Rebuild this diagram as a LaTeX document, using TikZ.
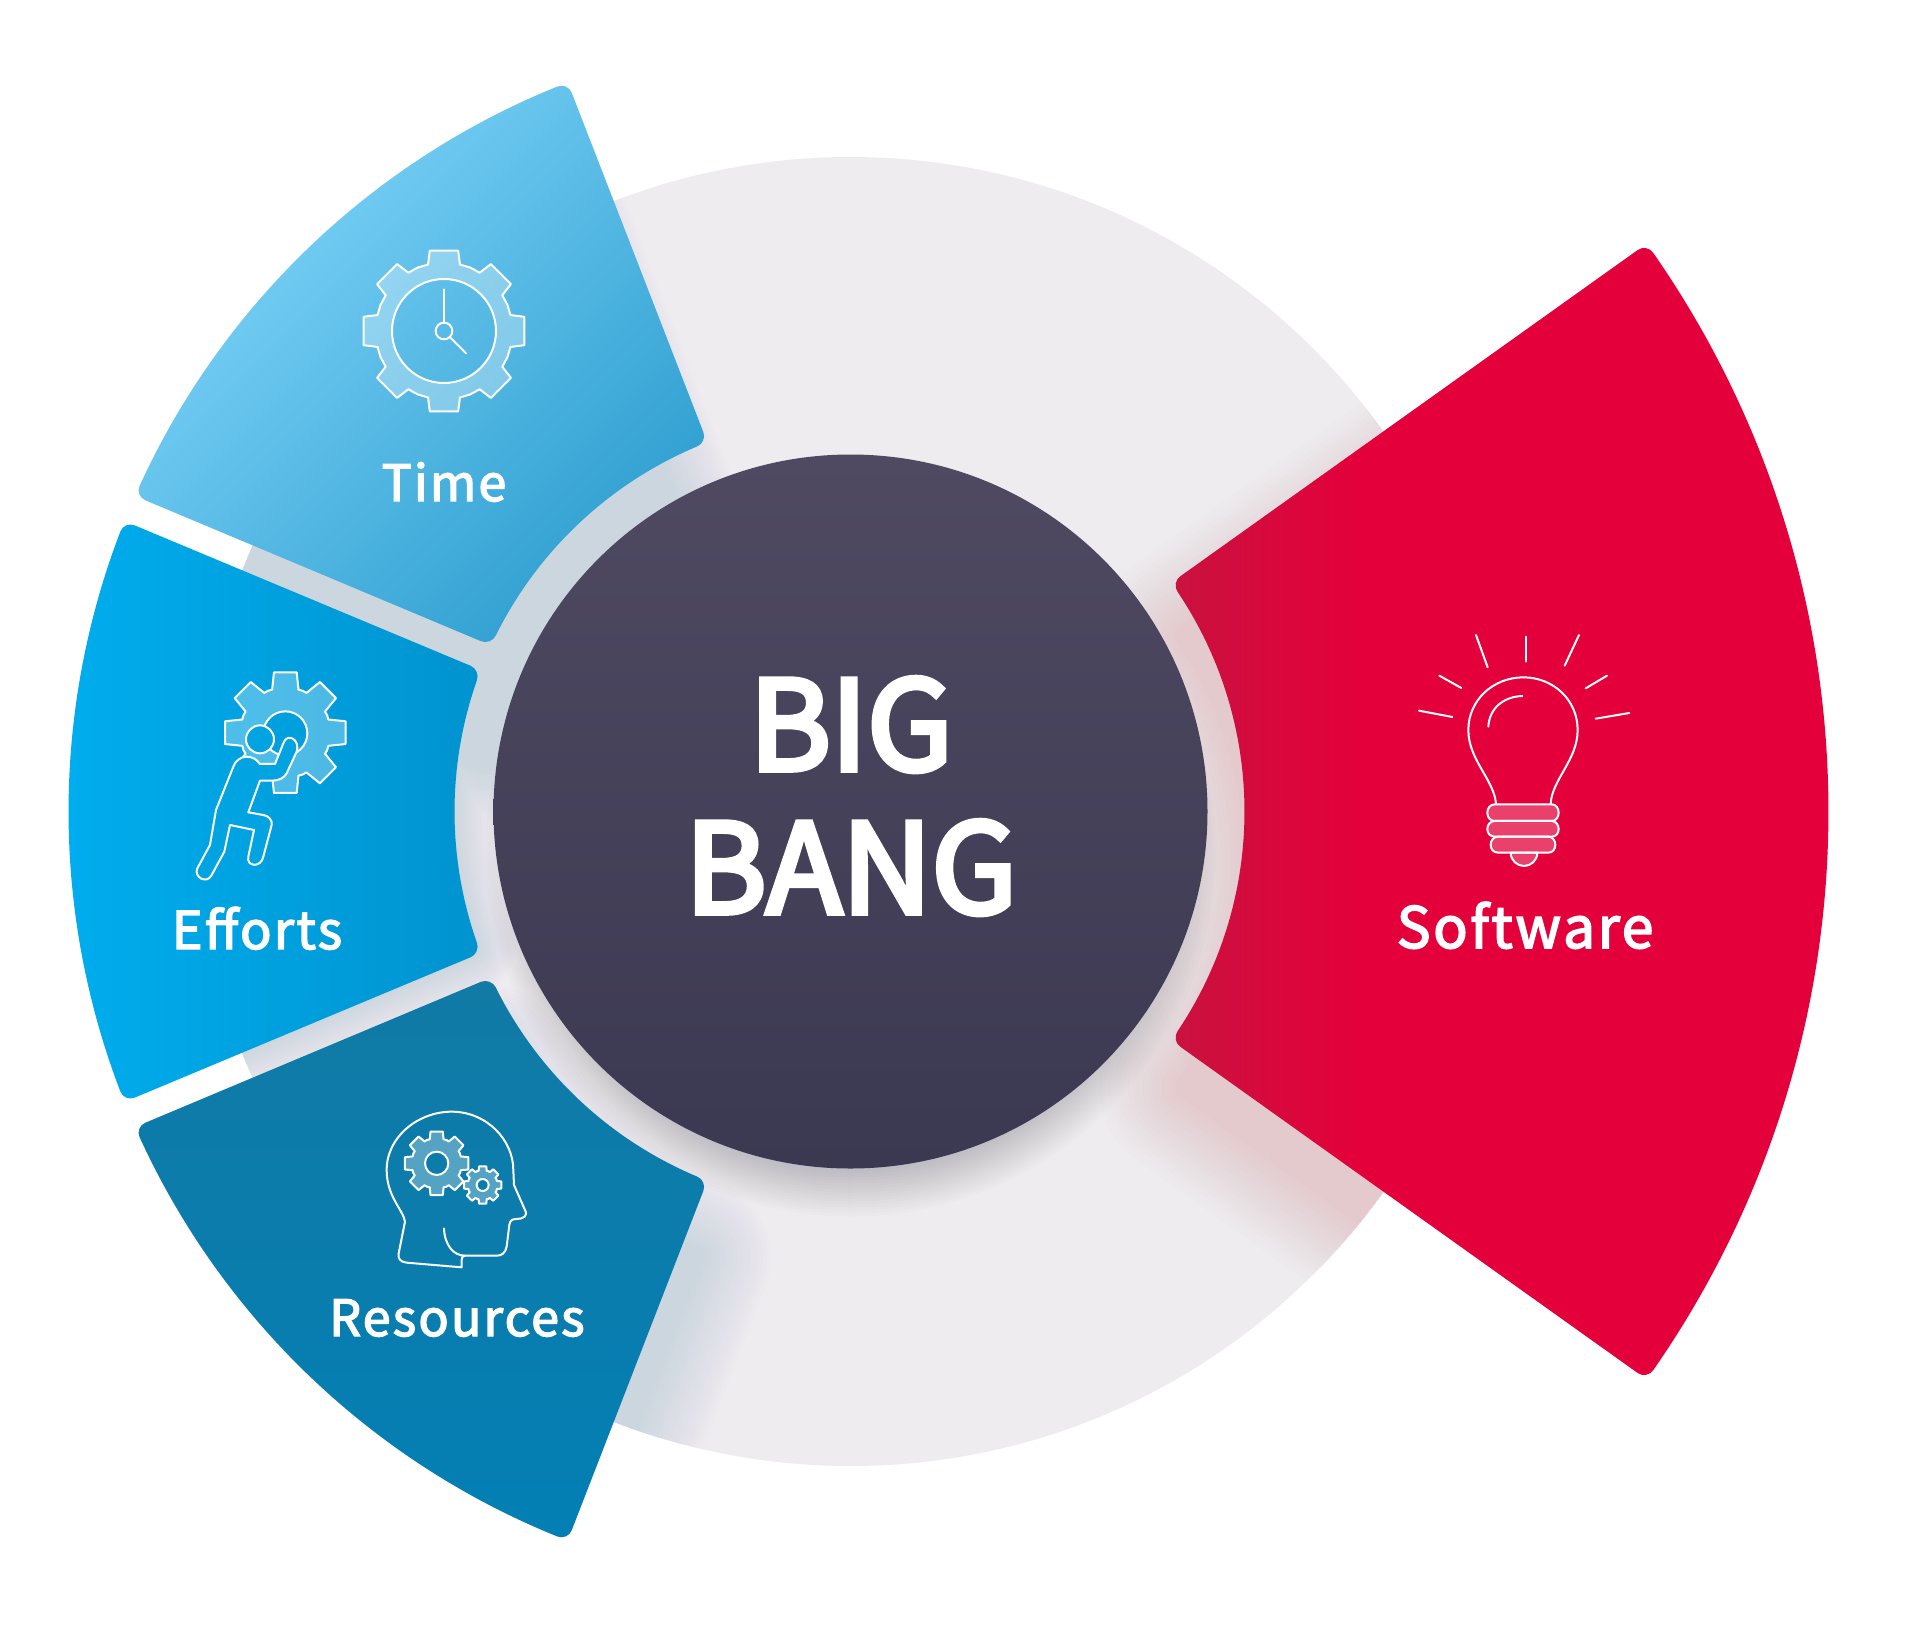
\documentclass[tikz,border=0pt]{standalone}
\usepackage{fontspec}
\usetikzlibrary{calc}
\newfontfamily\srcfont[FakeBold=4.5]{Noto Sans CJK SC}
\newfontfamily\srclabel[LetterSpace=4.5,FakeBold=2.8]{Noto Sans CJK SC}
\definecolor{ringgray}{HTML}{EEECEF}
\definecolor{darktop}{HTML}{4F4A62}
\definecolor{darkbot}{HTML}{3B3851}
\definecolor{shadeblue}{HTML}{1464DC}
\definecolor{shadered}{HTML}{E4003B}
\definecolor{shadedark}{HTML}{3C3850}
\definecolor{timeA}{HTML}{80D5FA}
\definecolor{timeB}{HTML}{2F9FD0}
\definecolor{effA}{HTML}{00AEEF}
\definecolor{effB}{HTML}{0093CF}
\definecolor{resA}{HTML}{117AA5}
\definecolor{resB}{HTML}{037FB4}
\definecolor{softA}{HTML}{C9123F}
\definecolor{softB}{HTML}{E4003B}
\definecolor{manfill}{HTML}{01A3E0}
\pgfdeclarehorizontalshading{softshade}{100bp}{color(0bp)=(softA); color(25bp)=(softA); color(38bp)=(softB); color(100bp)=(softB)}
\def\cd{11}
\def\sectorpath#1#2#3#4#5#6{%
 ($(#1:#5)!\cd pt!(#2:#6)$) -- ($(#2:#6)!\cd pt!(#1:#5)$)
 .. controls ($(#2:#6)!5pt!(#1:#5)$) and ($(#2:#6)!.45!({#2+\cd/#6*57.3}:#6)$) .. ({#2+\cd/#6*57.3}:#6)
 arc[start angle={#2+\cd/#6*57.3}, end angle={#3-\cd/#6*57.3}, radius=#6]
 .. controls ($(#3:#6)!.45!({#3-\cd/#6*57.3}:#6)$) and ($(#3:#6)!5pt!(#4:#5)$) .. ($(#3:#6)!\cd pt!(#4:#5)$)
 -- ($(#4:#5)!\cd pt!(#3:#6)$)
 .. controls ($(#4:#5)!5pt!(#3:#6)$) and ($(#4:#5)!.45!({#4-\cd/#5*57.3}:#5)$) .. ({#4-\cd/#5*57.3}:#5)
 arc[start angle={#4-\cd/#5*57.3}, end angle={#1+\cd/#5*57.3}, radius=#5]
 .. controls ($(#1:#5)!.45!({#1+\cd/#5*57.3}:#5)$) and ($(#1:#5)!5pt!(#2:#6)$) .. ($(#1:#5)!\cd pt!(#2:#6)$) -- cycle}
\def\timepath{\sectorpath{111.2}{111.2}{156.2}{155.2}{396}{782}}
\def\effpath{\sectorpath{159.06}{158.2}{201.8}{200.94}{396}{782}}
\def\respath{\sectorpath{204.8}{203.8}{248.8}{248.8}{396}{782}}
\def\softpath{\sectorpath{-35.5}{-35.5}{35.5}{35.5}{394}{978}}
% Gear: centre, outer R, root r, tip half-angle, base half-angle
\def\gearpath#1#2#3#4#5{%
 ($(#1)+(-#5:#3)$)
 \foreach \a in {0,45,...,315}{
 -- ($(#1)+({\a-#5}:#3)$) -- ($(#1)+({\a-#4}:#2)$) -- ($(#1)+({\a+#4}:#2)$)
 -- ($(#1)+({\a+#5}:#3)$) -- ($(#1)+({\a+22.5}:#3+1)$)} -- cycle}
\tikzset{
 iconline/.style={draw=white,line width=2pt,line cap=round,line join=round},
 iconfill/.style={iconline,fill=white,fill opacity=.3,even odd rule},
 biglabel/.style={anchor=base,text=white,inner sep=0pt,font=\srcfont\fontsize{124}{124}\selectfont},
 seclabel/.style={anchor=base,text=white,inner sep=0pt,font=\srclabel\fontsize{50}{50}\selectfont},
 effortlabel/.style={anchor=base,text=white,inner sep=0pt,font=\srclabel\fontsize{52}{52}\selectfont},
 softlabel/.style={anchor=base,text=white,inner sep=0pt,font=\srclabel\fontsize{57}{57}\selectfont},
 glow/.style={fill=#1,draw=#1,line join=round},
 glowlayer/.style={transparency group,opacity=.008}
}
\begin{document}
\begin{tikzpicture}[x=1pt,y=1pt]
\useasboundingbox (0,0) rectangle (1920,-1631);
\begin{scope}[shift={(850.5,-811.5)}]
 \path[fill=ringgray] (0,0) circle[radius=654.5];
 \begin{scope}
  \clip (0,0) circle[radius=654.5];
  % soft shadows thrown downwards by the sectors and the disc
  \foreach \t in {0,.06,...,1}{
    \begin{scope}[glowlayer]
    \path[glow=shadeblue,line width={120*\t},yshift=-130pt] \timepath;
    \path[glow=shadeblue,line width={80*\t}] \effpath;
    \path[glow=shadeblue,line width={140*\t},yshift=-70pt] \respath;
    \end{scope}
    \begin{scope}[glowlayer]
    \path[glow=shadered,line width={160*\t},yshift=-50pt] \softpath;
    \end{scope}
  }
  \foreach \w in {0,3,...,45}{
   \path[fill=shadedark,opacity=.016] (0,-40) circle[radius=320+\w];
  }
 \end{scope}
 % sectors
 \path[shading=axis,left color=timeA,right color=timeB,shading angle=45] \timepath;
 \path[left color=effA,right color=effB] \effpath;
 \path[top color=resA,bottom color=resB] \respath;
 \path[shading=softshade] \softpath;
 \path[top color=darktop,bottom color=darkbot] (0,0) circle[radius=357];
\end{scope}
% texts
\node[biglabel] (big) at (851,-770) {BIG};
\node[biglabel] (bang) at (851,-913) {BANG};
\node[seclabel] (time) at (444,-501) {Time};
\node[effortlabel] (efforts) at (257,-949) {Efforts};
\node[seclabel] (resources) at (457,-1336) {Resources};
\node[softlabel] (software) at (1525,-948) {Software};
% Time icon (zoom coordinates)
\begin{scope}[shift={(340,-230)},x=.3333pt,y=-.3333pt]
 \path[iconfill] \gearpath{312,303}{245}{205}{10}{13.5} (312,303) circle[radius=156];
 \draw[iconline] (312,303) circle[radius=25];
 \draw[iconline] (312,178) -- (312,278);
 \draw[iconline] (330,322) -- (378,370);
\end{scope}
% Efforts icon
\begin{scope}[shift={(180,-650)},x=.3333pt,y=-.3333pt]
 \path[iconfill] \gearpath{316,248}{184}{135}{10.7}{17} (316,250) circle[radius=66];
 \draw[iconline,fill=manfill] (200,320) .. controls (180,320) and (165,335) .. (160,350)
  -- (108,480) -- (90,585) -- (52,655) .. controls (40,680) and (80,705) .. (95,675)
  -- (133,605) -- (150,525) -- (222,540) -- (205,620) .. controls (198,650) and (243,655) .. (250,620)
  -- (275,525) .. controls (278,510) and (265,497) .. (250,495) -- (205,487) -- (240,392) -- (275,392)
  .. controls (295,392) and (312,385) .. (320,370) -- (350,305) .. controls (362,270) and (322,245) .. (310,280)
  -- (285,342) -- (240,342) .. controls (232,330) and (218,320) .. (200,320) -- cycle;
 \draw[iconline,fill=manfill] (240,268) circle[radius=42];
\end{scope}
% Resources icon
\begin{scope}[shift={(370,-1090)},x=.3333pt,y=-.3333pt]
 \draw[iconline] (275,532) -- (110,518) .. controls (90,516) and (83,505) .. (86,490)
  -- (105,395) .. controls (100,360) and (50,320) .. (50,240)
  .. controls (50,140) and (145,65) .. (245,65) .. controls (350,65) and (430,150) .. (430,240)
  -- (432,285) -- (465,360) .. controls (475,378) and (460,387) .. (440,387)
  .. controls (425,387) and (420,392) .. (418,405) -- (410,470) .. controls (406,490) and (395,497) .. (380,497)
  -- (285,497) .. controls (277,497) and (275,503) .. (275,510) -- cycle;
 \draw[iconline] (222,415) .. controls (224,465) and (250,497) .. (285,497);
 \path[iconfill] \gearpath{200,220}{97}{75}{11}{16} (200,220) circle[radius=35];
 \path[iconfill] \gearpath{338,285}{57}{44}{11}{16} (338,285) circle[radius=18];
\end{scope}
% Software icon
\begin{scope}[shift={(1400,-620)},x=.3333pt,y=-.3333pt]
 \draw[iconline] (228,45) -- (263,142);
 \draw[iconline] (377,50) -- (377,125);
 \draw[iconline] (537,45) -- (494,137);
 \draw[iconline] (118,167) -- (184,204);
 \draw[iconline] (621,167) -- (557,205);
 \draw[iconline] (57,272) -- (157,291);
 \draw[iconline] (688,279) -- (587,296);
 \draw[iconline] (288,552) .. controls (283,480) and (205,420) .. (205,330)
  .. controls (205,240) and (280,172) .. (370,172) .. controls (460,172) and (533,240) .. (533,330)
  .. controls (533,420) and (455,480) .. (452,552);
 \draw[iconline] (265,320) .. controls (268,265) and (310,230) .. (367,228);
 \path[iconline,fill=white,fill opacity=.25] (332,698) .. controls (332,722) and (352,738) .. (372,738)
  .. controls (392,738) and (412,722) .. (412,698) -- cycle;
 \path[iconline,fill=white,fill opacity=.25] (285,553) -- (455,553) .. controls (468,553) and (476,565) .. (476,578) .. controls (476,592) and (468,603) .. (455,603) -- (285,603) .. controls (270,603) and (262,592) .. (262,578) .. controls (262,565) and (270,553) .. (285,553) -- cycle;
 \path[iconline,fill=white,fill opacity=.25] (285,603) -- (455,603) .. controls (468,603) and (476,615) .. (476,627) .. controls (476,640) and (468,650) .. (455,650) -- (285,650) .. controls (270,650) and (262,640) .. (262,627) .. controls (262,615) and (270,603) .. (285,603) -- cycle;
 \path[iconline,fill=white,fill opacity=.25] (295,650) -- (445,650) .. controls (458,650) and (466,662) .. (466,674) .. controls (466,688) and (458,698) .. (445,698) -- (295,698) .. controls (280,698) and (272,688) .. (272,674) .. controls (272,662) and (280,650) .. (295,650) -- cycle;
\end{scope}
\end{tikzpicture}
\end{document}
